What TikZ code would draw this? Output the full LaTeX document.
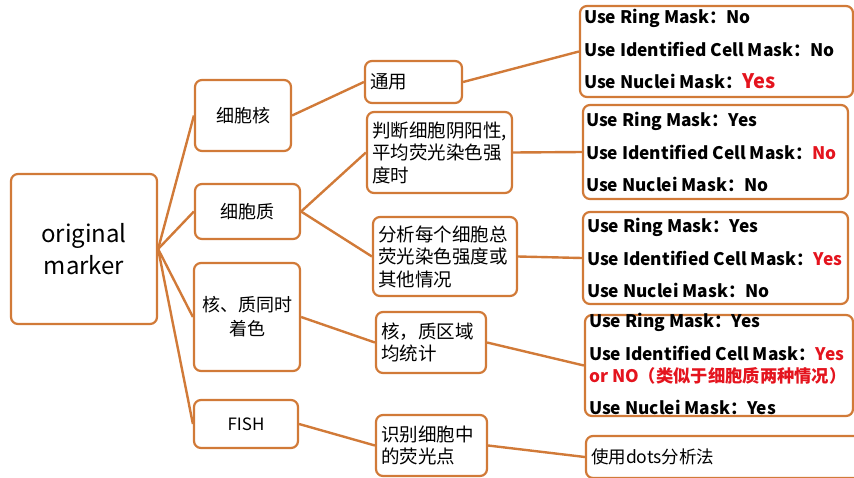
\documentclass[tikz,border=0pt]{standalone}
\usepackage{fontspec}
\setmainfont{Noto Sans CJK SC}
\definecolor{orng}{RGB}{209,122,56}
\definecolor{myred}{RGB}{228,20,30}
\tikzset{
  box/.style={draw=orng, line width=2.2pt, rounded corners=7pt, inner sep=0pt},
  lvA/.style={box, font=\fontsize{18}{24}\selectfont, align=center},
  lvB/.style={box, font=\fontsize{18.5}{22.5}\selectfont, align=left, inner xsep=5pt},
  rtxt/.style={anchor=west, inner sep=0pt, align=left, font=\bfseries\fontsize{17.3}{32.5}\selectfont},
  link/.style={draw=orng, line width=2.4pt}
}
\begin{document}
\begin{tikzpicture}[x=1pt,y=-1pt]
\useasboundingbox (0,0) rectangle (854,477);
% root
\node[box, minimum width=146pt, minimum height=150pt, font=\fontsize{24}{32}\selectfont, align=center] (orig) at (84,249) {original\\marker};
% level 1
\node[lvA, minimum width=96pt, minimum height=71pt] (n1) at (243,115.5) {细胞核};
\node[lvA, minimum width=105pt, minimum height=55pt] (n2) at (247.5,211.5) {细胞质};
\node[lvA, minimum width=106pt, minimum height=108pt] (n3) at (247,317) {核、质同时\\着色};
\node[lvA, minimum width=104pt, minimum height=48pt, font=\fontsize{17}{22}\selectfont] (n4) at (246,424) {FISH};
% level 2
\node[lvB, minimum width=97pt, minimum height=42pt, text width=87pt] (m1) at (413.5,82) {通用};
\node[lvB, minimum width=145pt, minimum height=81pt, text width=135pt] (m2) at (439.5,152.5) {判断细胞阴阳性,\\平均荧光染色强\\度时};
\node[lvB, minimum width=144pt, minimum height=79pt, text width=134pt] (m3) at (445,256.5) {分析每个细胞总\\荧光染色强度或\\其他情况};
\node[lvB, minimum width=110pt, minimum height=61pt, text width=100pt] (m4) at (431,342.5) {核，质区域\\均统计};
\node[lvB, minimum width=111pt, minimum height=61pt, text width=101pt] (m5) at (431.5,445.5) {识别细胞中\\的荧光点};
% level 3 boxes
\node[box, minimum width=273pt, minimum height=91pt] (r1) at (716.5,51.5) {};
\node[box, minimum width=265pt, minimum height=94pt] (r2) at (715.5,152) {};
\node[box, minimum width=265pt, minimum height=92pt] (r3) at (715.5,258) {};
\node[box, minimum width=268pt, minimum height=101pt] (r4) at (719,365.5) {};
\node[box, minimum width=276pt, minimum height=42pt, font=\fontsize{17.5}{22}\selectfont, align=left, inner xsep=5pt, text width=266pt] (r5) at (724,457) {使用dots分析法};
% level 3 texts
\node[rtxt] (r1t) at ([xshift=5pt,yshift=2.5pt]r1.west) {Use Ring Mask：No\\Use Identified Cell Mask：No\\Use Nuclei Mask：{\color{myred}\fontsize{20}{20}\selectfont Yes}};
\node[rtxt] (r2t) at ([xshift=4pt]r2.west) {Use Ring Mask：Yes\\Use Identified Cell Mask：{\color{myred}No}\\Use Nuclei Mask：No};
\node[rtxt] (r3t) at ([xshift=5pt]r3.west) {Use Ring Mask：Yes\\Use Identified Cell Mask：{\color{myred}Yes}\\Use Nuclei Mask：No};
\node[rtxt] (r4t) at ([xshift=5pt,yshift=1.5pt]r4.west) {Use Ring Mask：Yes\\Use Identified Cell Mask：{\color{myred}Yes}\\[-10.5pt]{\color{myred}or NO（类似于细胞质两种情况）}\\Use Nuclei Mask：Yes};
% connectors
\foreach \n in {n1,n2,n3,n4} \draw[link] (orig.east) -- (\n.west);
\draw[link] (n1.east) -- (m1.west);
\draw[link] (n2.east) -- (m2.west);
\draw[link] (n2.east) -- (m3.west);
\draw[link] (n3.east) -- (m4.west);
\draw[link] (n4.east) -- (m5.west);
\draw[link] (m1.east) -- (r1.west);
\draw[link] (m2.east) -- (r2.west);
\draw[link] (m3.east) -- (r3.west);
\draw[link] (m4.east) -- (r4.west);
\draw[link] (m5.east) -- (r5.west);
\end{tikzpicture}
\end{document}
